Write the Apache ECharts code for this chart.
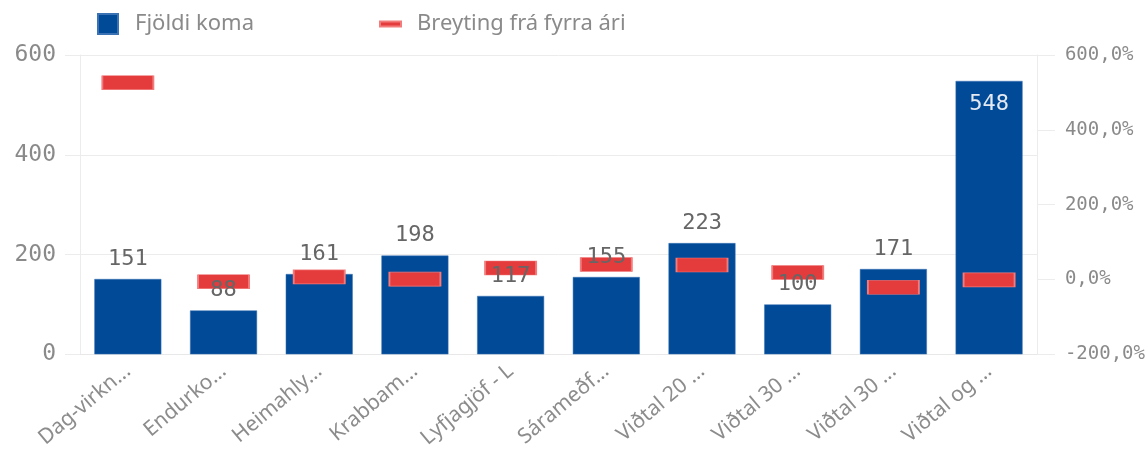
<!DOCTYPE html>
<html>
<head>
<meta charset="utf-8">
<script src="https://cdn.jsdelivr.net/npm/echarts@6/dist/echarts.min.js"></script>
<style>
  html, body { margin: 0; padding: 0; background: #fff; }
  #chartArea { width: 1148px; height: 451px; }
</style>
</head>
<body>
<div id="chartArea"></div>
<script>
let categories = ['Dag-virkn...', 'Endurko...', 'Heimahly...', 'Krabbam...', 'Lyfjagjöf - L',
    'Sárameðf...', 'Viðtal 20 ...', 'Viðtal 30 ...', 'Viðtal 30 ...', 'Viðtal og ...'];
let countValues = [151, 88, 161, 198, 117, 155, 223, 100, 171, 548];
let changeValues = [526, -6, 7, 1, 31, 40, 39, 19, -21, -1];
let leftTicks = [0, 200, 400, 600];
let rightTicks = [-200, 0, 200, 400, 600];

let barColor = '#004a98';
let markColor = '#e43b3d';
let textFont = '"Noto Sans", sans-serif';
let numFont = '"DejaVu Sans Mono", monospace';

let myChart = echarts.init(document.getElementById('chartArea'));

// tallest bar gets its label inside, like the original
let maxCount = Math.max.apply(null, countValues);
let labelData = countValues.map(function (v) {
    if (v === maxCount) {
        return {value: v, label: {position: 'insideTop', distance: 12, color: '#e4e9f2'}};
    }
    return v;
});

let option = {
    animation: false,
    legend: [
        {
            data: ['Fjöldi koma'],
            left: 97, top: 13, padding: 0,
            icon: 'rect', itemWidth: 20, itemHeight: 20, itemGap: 0,
            textStyle: {color: '#8a8a8a', fontSize: 22, fontFamily: textFont, padding: [0, 0, 0, 12]}
        },
        {
            data: ['Breyting frá fyrra ári'],
            left: 379, top: 13, padding: 0,
            icon: 'rect', itemWidth: 21, itemHeight: 5, itemGap: 0,
            textStyle: {color: '#8a8a8a', fontSize: 22, fontFamily: textFont, padding: [0, 0, 0, 11]}
        }
    ],
    grid: {left: 80, right: 108, top: 55, bottom: 96},
    xAxis: {
        type: 'category',
        data: categories,
        axisLine: {lineStyle: {color: '#e8e8e8'}},
        axisTick: {show: false},
        axisLabel: {
            interval: 0, rotate: 40, margin: 14,
            color: '#8c8c8c', fontSize: 21, fontFamily: textFont
        }
    },
    yAxis: [
        {
            type: 'value',
            min: leftTicks[0], max: leftTicks[leftTicks.length - 1], interval: 200,
            axisLine: {show: true, lineStyle: {color: '#ececec'}},
            axisTick: {show: true, length: 15, lineStyle: {color: '#ececec'}},
            splitLine: {lineStyle: {color: '#ececec'}},
            axisLabel: {margin: 24, color: '#8a8a8a', fontSize: 23, fontFamily: numFont}
        },
        {
            type: 'value',
            min: rightTicks[0], max: rightTicks[rightTicks.length - 1], interval: 200,
            axisLine: {show: true, lineStyle: {color: '#ececec'}},
            axisTick: {show: true, length: 18, lineStyle: {color: '#ececec'}},
            splitLine: {show: false},
            axisLabel: {
                margin: 28, color: '#8a8a8a', fontSize: 19, fontFamily: numFont,
                formatter: function (v) {
                    return v.toFixed(1).replace('.', ',') + '%';
                }
            }
        }
    ],
    series: [
        {
            name: 'Fjöldi koma',
            type: 'bar',
            data: countValues,
            barCategoryGap: '30%',
            itemStyle: {color: barColor, borderColor: '#3b72b3', borderWidth: 0.5},
            z: 2
        },
        {
            name: 'Breyting frá fyrra ári',
            type: 'scatter',
            yAxisIndex: 1,
            data: changeValues,
            symbol: 'rect',
            symbolSize: [51, 14],
            itemStyle: {color: markColor, borderColor: '#f27c7c', borderWidth: 1, opacity: 1},
            z: 3
        },
        {
            // label layer drawn over the markers
            name: 'labels',
            type: 'bar',
            data: labelData,
            barGap: '-100%',
            barCategoryGap: '30%',
            silent: true,
            itemStyle: {color: 'rgba(0,0,0,0)'},
            label: {
                show: true, position: 'top', distance: 9,
                color: '#666666', fontSize: 22, fontFamily: numFont
            },
            z: 4
        }
    ]
};

myChart.setOption(option);
</script>
</body>
</html>
